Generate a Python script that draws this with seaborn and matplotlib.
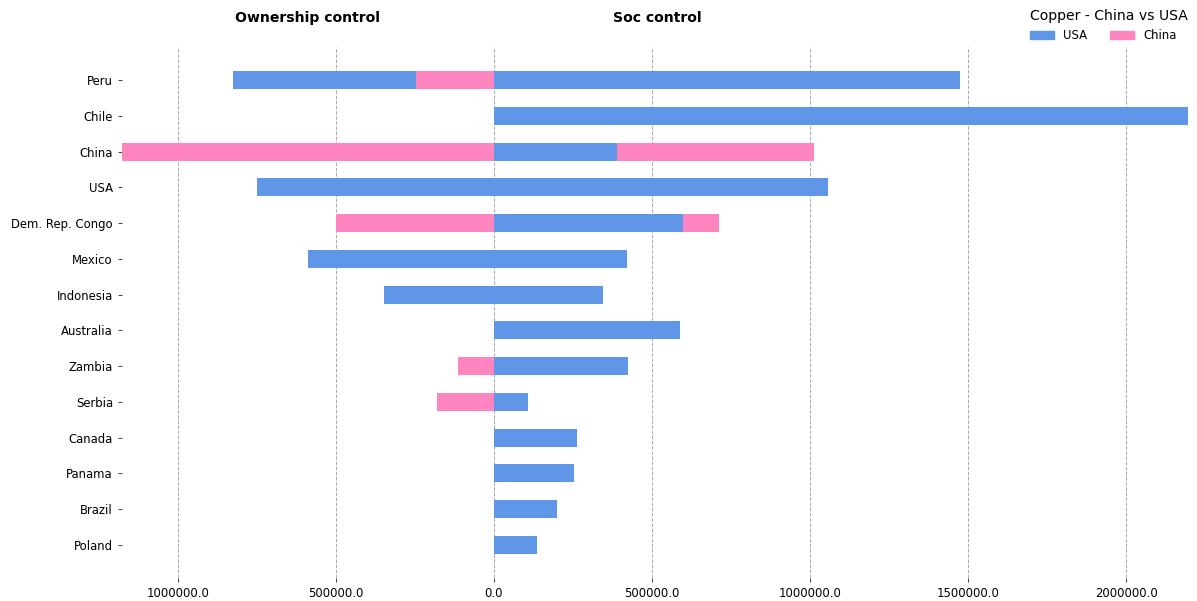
import matplotlib
matplotlib.use("Agg")
import matplotlib.pyplot as plt
from matplotlib.ticker import FuncFormatter, MultipleLocator
from matplotlib.patches import Patch
import pandas as pd
import seaborn as sns

# Data
countries = ['Peru', 'Chile', 'China', 'USA', 'Dem. Rep. Congo', 'Mexico', 'Indonesia',
             'Australia', 'Zambia', 'Serbia', 'Canada', 'Panama', 'Brazil', 'Poland']
own_usa = [580000, 0, 0, 748000, 0, 588000, 346000, 0, 0, 0, 0, 0, 0, 0]
own_china = [245000, 0, 1176000, 0, 498000, 0, 0, 0, 112000, 178000, 0, 0, 0, 0]
soc_usa = [1476000, 2196000, 391000, 1056000, 598000, 421000, 344000,
           589000, 425000, 108000, 262000, 253000, 200000, 137000]
soc_china = [0, 0, 622000, 0, 114000, 0, 0, 0, 0, 0, 0, 0, 0, 0]

usa_color = '#6096e8'
china_color = '#ff85c0'

df = pd.DataFrame({
    'country': countries,
    'own_usa': own_usa,
    'own_china': own_china,
    'soc_usa': soc_usa,
    'soc_china': soc_china,
})
# stacked totals, drawn from the longest layer down
df['own_total'] = -(df['own_usa'] + df['own_china'])
df['own_china_neg'] = -df['own_china']
df['soc_total'] = df['soc_usa'] + df['soc_china']

sns.set_style('ticks')
plt.rcParams['text.color'] = 'black'
fig = plt.figure(figsize=(11.97, 6.01), dpi=100)
ax = fig.add_axes([0.1019, 0.0383, 0.8906, 0.8835])

bar_kw = dict(y='country', orient='h', order=countries, width=0.5,
              saturation=1, linewidth=0, ax=ax)
sns.barplot(data=df, x='own_total', color=usa_color, **bar_kw)
sns.barplot(data=df, x='own_china_neg', color=china_color, **bar_kw)
sns.barplot(data=df, x='soc_total', color=china_color, **bar_kw)
sns.barplot(data=df, x='soc_usa', color=usa_color, **bar_kw)

ax.set_xlim(df['own_total'].min(), df['soc_total'].max())
ax.set_ylim(len(countries) - 1 + 0.925, -0.925)
ax.xaxis.set_major_locator(MultipleLocator(500000))
ax.xaxis.set_major_formatter(FuncFormatter(lambda v, p: f"{abs(v):.1f}"))
ax.set_xlabel('')
ax.set_ylabel('')
ax.tick_params(axis='both', labelsize=8.4, length=3, width=0.7,
               colors='#444444', labelcolor='black')
ax.grid(axis='x', linestyle='--', color='#aaaaaa', linewidth=0.7)
ax.set_axisbelow(True)
sns.despine(ax=ax, left=True, bottom=True)

fig.text(0.2573, 0.970, 'Ownership control', ha='center', va='center',
         fontsize=10.1, fontweight='bold', color='black')
fig.text(0.549, 0.970, 'Soc control', ha='center', va='center',
         fontsize=10.1, fontweight='bold', color='black')

handles = [Patch(color=usa_color, label='USA'), Patch(color=china_color, label='China')]
leg = ax.legend(handles=handles, title='Copper - China vs USA', ncol=2, frameon=False,
                loc='lower right', bbox_to_anchor=(1.0045, 1.0), borderaxespad=0.0,
                fontsize=8.4, title_fontsize=10.1, alignment='left')
leg.get_title().set_color('black')

fig.savefig('out.png', dpi=100)
